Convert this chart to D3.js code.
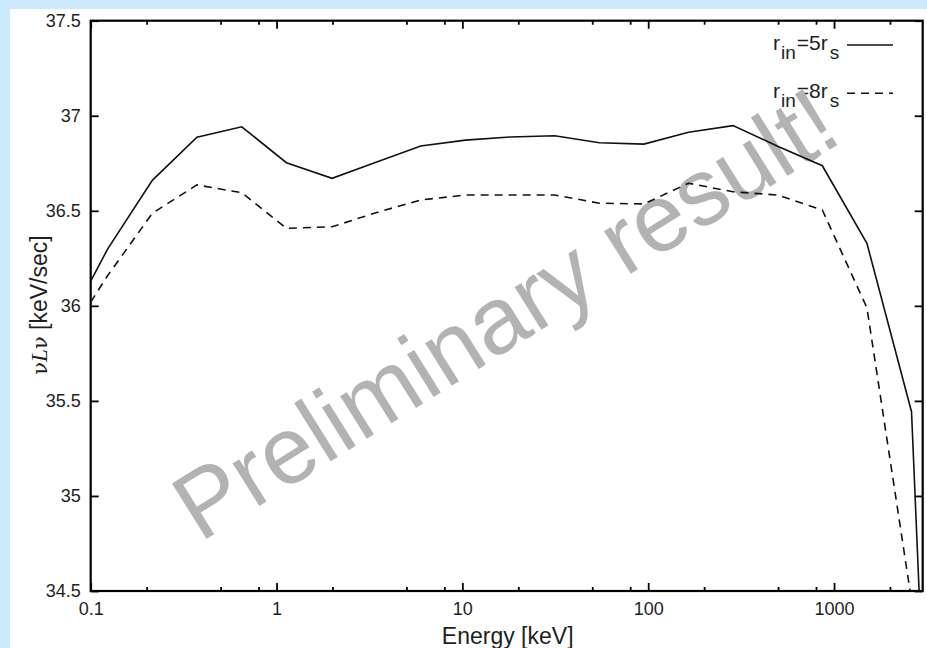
<!DOCTYPE html>
<html>
<head>
<meta charset="utf-8">
<script src="https://cdn.jsdelivr.net/npm/d3@7"></script>
<style>
  html, body { margin: 0; padding: 0; background: #cdeafc; }
  #chart { position: absolute; left: 10px; top: 9px; width: 917px; height: 639px; background: #fff; }
  svg { position: absolute; left: 0; top: 0; }
  text { font-family: "Liberation Sans", Arial, sans-serif; fill: #1e1e1e; }
</style>
</head>
<body>
<div id="chart"></div>
<script>
// Energy grid [keV]
var energy = [0.1, 0.1235, 0.2146, 0.373, 0.65, 1.13, 1.99, 3.43, 5.97, 10.4, 18.1, 31.4, 54.6, 94.8, 164.8, 286, 497, 865, 1503, 2612, 4540];
// log nuLnu for r_in = 5 r_s (solid) and r_in = 8 r_s (dashed)
var rin5 = [36.13, 36.30, 36.66, 36.887, 36.942, 36.753, 36.671, 36.756, 36.841, 36.872, 36.888, 36.895, 36.858, 36.851, 36.913, 36.948, 36.84, 36.737, 36.329, 35.443, 29.9];
var rin8 = [36.02, 36.16, 36.487, 36.636, 36.595, 36.408, 36.416, 36.49, 36.557, 36.583, 36.583, 36.583, 36.54, 36.536, 36.645, 36.6, 36.583, 36.504, 35.99, 34.45, 29.0];
var xMajor = [0.1, 1, 10, 100, 1000];
var xMinor = [0.2, 0.5, 0.8, 2, 5, 8, 20, 50, 80, 200, 500, 800, 2000];
var yTicks = [34.5, 35, 35.5, 36, 36.5, 37, 37.5];
var legendNames = ["5", "8"];

var width = 927, height = 648;
var plotLeft = 90.7, plotRight = 922.7, plotTop = 20.7, plotBottom = 591;

var svg = d3.select('body')
  .append('svg')
  .attr('width', width)
  .attr('height', height);

var x = d3.scaleLog().domain([0.1, 3000]).range([plotLeft, plotRight]);
var y = d3.scaleLinear().domain([34.5, 37.5]).range([plotBottom, plotTop]);

// Clip for the data lines
svg.append('clipPath').attr('id', 'clip')
  .append('rect')
  .attr('x', plotLeft).attr('y', plotTop)
  .attr('width', plotRight - plotLeft).attr('height', plotBottom - plotTop);

// Axes (ticks pointing inward)
function styleAxis(g) {
  g.select('.domain').remove();
  g.selectAll('line').attr('stroke', '#000').attr('stroke-width', 1.8);
  g.selectAll('text').style('font-size', '18px').attr('fill', '#1e1e1e');
}
svg.append('g').attr('transform', 'translate(0,' + plotBottom + ')')
  .call(d3.axisBottom(x).tickValues(xMajor).tickFormat(d3.format('')).tickSizeInner(-8).tickSizeOuter(0).tickPadding(11))
  .call(styleAxis);
svg.append('g').attr('transform', 'translate(0,' + plotBottom + ')')
  .call(d3.axisBottom(x).tickValues(xMinor).tickFormat('').tickSizeInner(-4).tickSizeOuter(0))
  .call(styleAxis);
svg.append('g').attr('transform', 'translate(0,' + plotTop + ')')
  .call(d3.axisTop(x).tickValues(xMajor).tickFormat('').tickSizeInner(-8).tickSizeOuter(0))
  .call(styleAxis);
svg.append('g').attr('transform', 'translate(0,' + plotTop + ')')
  .call(d3.axisTop(x).tickValues(xMinor).tickFormat('').tickSizeInner(-4).tickSizeOuter(0))
  .call(styleAxis);
svg.append('g').attr('transform', 'translate(' + plotLeft + ',0)')
  .call(d3.axisLeft(y).tickValues(yTicks).tickFormat(d3.format('')).tickSizeInner(-8).tickSizeOuter(0).tickPadding(10))
  .call(styleAxis);
svg.append('g').attr('transform', 'translate(' + plotRight + ',0)')
  .call(d3.axisRight(y).tickValues(yTicks).tickFormat('').tickSizeInner(-8).tickSizeOuter(0))
  .call(styleAxis);

// Frame
svg.append('rect')
  .attr('x', plotLeft).attr('y', plotTop)
  .attr('width', plotRight - plotLeft).attr('height', plotBottom - plotTop)
  .attr('fill', 'none').attr('stroke', '#000').attr('stroke-width', 2.2);

// Axis titles
svg.append('text')
  .attr('x', (plotLeft + plotRight) / 2 + 1).attr('y', 644)
  .attr('text-anchor', 'middle')
  .style('font-size', '23px')
  .text('Energy [keV]');
var ylab = svg.append('text')
  .attr('transform', 'translate(47,305) rotate(-90)')
  .attr('text-anchor', 'middle')
  .style('font-size', '23px');
ylab.append('tspan').style('font-family', '"DejaVu Serif", serif').style('font-size', '21px').text('ν');
ylab.append('tspan').style('font-family', '"Liberation Serif", serif').style('font-style', 'italic').text('L');
ylab.append('tspan').style('font-family', '"DejaVu Serif", serif').style('font-size', '21px').text('ν');
ylab.append('tspan').text(' [keV/sec]');

// Legend
var legend = svg.selectAll('.legend')
  .data(legendNames)
  .enter()
  .append('g')
  .attr('class', 'legend')
  .attr('transform', function(d, i) { return 'translate(0,' + (i * 48.3) + ')'; });
var ltext = legend.append('text')
  .attr('x', 773).attr('y', 50)
  .style('font-size', '21px');
ltext.append('tspan').text('r');
ltext.append('tspan').attr('dy', 9).attr('dx', 1).style('font-size', '19px').text('in');
ltext.append('tspan').attr('dy', -9).attr('dx', 1).text(function(d) { return '=' + d + 'r'; });
ltext.append('tspan').attr('dy', 9).attr('dx', 2).style('font-size', '19px').text('s');
legend.append('line')
  .attr('x1', 847).attr('x2', 893)
  .attr('y1', 45).attr('y2', 45)
  .attr('stroke', '#111').attr('stroke-width', 1.6)
  .attr('stroke-dasharray', function(d, i) { return i ? '8,6' : null; });

// Watermark
svg.append('text')
  .attr('transform', 'translate(200,543) rotate(-32)')
  .style('font-size', '95px')
  .style('fill', '#b3b3b3')
  .text('Preliminary result!');

// Lines
var line = d3.line()
  .x(function(d) { return x(d[0]); })
  .y(function(d) { return y(d[1]); });
var series = [
  { values: d3.zip(energy, rin5), dash: null },
  { values: d3.zip(energy, rin8), dash: '8,6' }
];
svg.append('g').attr('clip-path', 'url(#clip)')
  .selectAll('path')
  .data(series)
  .enter()
  .append('path')
  .attr('d', function(d) { return line(d.values); })
  .attr('fill', 'none')
  .attr('stroke', '#111')
  .attr('stroke-width', 1.6)
  .attr('stroke-dasharray', function(d) { return d.dash; });
</script>
</body>
</html>
